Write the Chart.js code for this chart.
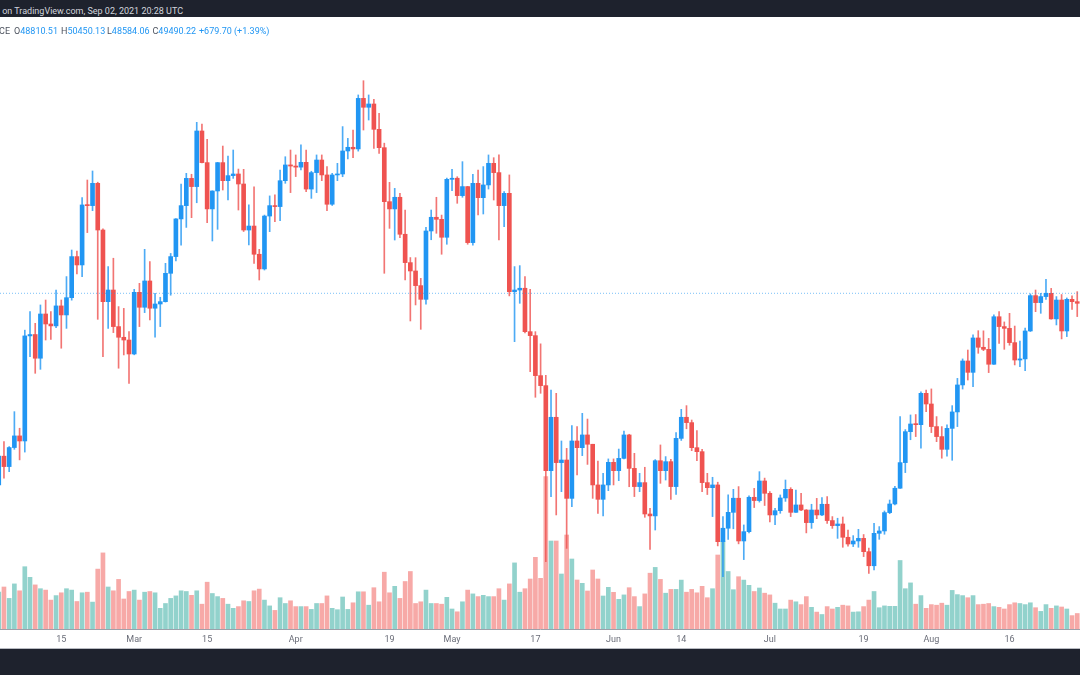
<!DOCTYPE html>
<html lang="en">
<head>
<meta charset="UTF-8">
<title>BTCUSDT 1D</title>
<script src="https://cdn.jsdelivr.net/npm/chart.js"></script>
<style>
    body {
        margin: 0;
        width: 1080px;
        height: 675px;
        overflow: hidden;
        background: #fff;
        font-family: Roboto, "Open Sans", sans-serif;
    }
    .topbar {
        position: absolute; left: 0; top: 0;
        width: 1080px; height: 17px;
        background: #1e222d;
        overflow: hidden;
    }
    .topbar span {
        position: absolute; right: 897px; top: 0;
        line-height: 22px; font-size: 9px;
        color: #d1d4dc; white-space: nowrap;
    }
    .legend {
        position: absolute; left: 0; top: 25px;
        width: 1080px; height: 12px;
        font-size: 9px; line-height: 12px;
        z-index: 2;
    }
    .legend span { position: absolute; top: 0; white-space: nowrap; }
    .legend .name { right: 1070px; color: #4c525e; }
    .legend b { font-weight: normal; color: #4c525e; }
    .legend i { font-style: normal; color: #2196f3; }
    .wrap {
        position: absolute; left: 0; top: 0;
        width: 1080px; height: 650px;
    }
    .rule {
        position: absolute; left: 0; top: 648px;
        width: 1080px; height: 1px; background: #b8bbc2;
    }
    .bottombar {
        position: absolute; left: 0; top: 649px;
        width: 1080px; height: 26px; background: #1e222d;
    }
</style>
</head>
<body>
<div class="wrap"><canvas id="chart"></canvas></div>
<div class="topbar"><span>Bitcoin / TetherUS published on TradingView.com, Sep 02, 2021 20:28 UTC</span></div>
<div class="legend" id="legend"><span class="name">BINANCE</span></div>
<div class="rule"></div>
<div class="bottombar"></div>

<script>
// daily candles, index 0 = 3 Feb 2021 ... index 207 = 29 Aug 2021
var open = [
    35500, 37600, 36840, 38230, 39080, 38710, 46380, 46480, 44750, 47980,
    47250, 47110, 48570, 47910, 49170, 52170, 51560, 55940, 55890, 57520,
    54110, 48880, 49730, 47060, 46280, 46080, 45060, 49560, 48470, 50390,
    48400, 48710, 48880, 50950, 52170, 54920, 55890, 57880, 57280, 61340,
    59030, 55650, 56960, 59030, 57710, 58080, 58200, 57470, 54110, 54400,
    52340, 51270, 55130, 55890, 55820, 57710, 58860, 58780, 58700, 59050,
    57100, 58300, 59220, 58130, 55990, 58130, 58200, 59880, 60150, 60030,
    63720, 63070, 63310, 61460, 60120, 56180, 55650, 56500, 53800, 51730,
    51120, 50050, 49050, 54040, 55040, 54890, 53580, 57810, 57890, 56620,
    57280, 53190, 57520, 56470, 57400, 58980, 58300, 55890, 56790, 49610,
    49730, 49860, 46690, 46400, 43480, 42750, 36540, 40440, 37130, 37320,
    34520, 38710, 38220, 39150, 38470, 35500, 34450, 35500, 37150, 36540,
    37440, 39150, 36710, 35380, 35670, 33380, 33240, 37270, 36540, 37200,
    35380, 38900, 40440, 40050, 38220, 37930, 35670, 35300, 35500, 31360,
    32340, 33500, 34530, 31410, 32090, 34600, 34360, 35790, 34890, 33310,
    33620, 34550, 35180, 33500, 34040, 33670, 32750, 33670, 33310, 34090,
    32900, 32530, 32650, 31680, 31190, 31410, 31600, 30630, 29600, 31970,
    32140, 33480, 34110, 35260, 37130, 39390, 39950, 39900, 42190, 41410,
    39760, 39030, 38100, 39630, 40830, 42800, 44550, 43720, 46230, 45550,
    45400, 44310, 47780, 47060, 46930, 45890, 44620, 44700, 46740, 49320,
    48810, 49250, 49490, 47620, 49000, 46740, 49050, 48880
];
var high = [
    37700, 38660, 38300, 40850, 39640, 46800, 48150, 47300, 48640, 49000,
    48150, 49730, 49000, 50710, 52650, 52580, 56470, 57760, 58420, 57600,
    54200, 51440, 52050, 48520, 48390, 46690, 49780, 50220, 52700, 51800,
    49490, 49200, 51680, 52400, 54950, 57470, 58250, 58180, 61970, 61850,
    60730, 56970, 59050, 60240, 59510, 59950, 58560, 58540, 55940, 57270,
    52700, 55200, 56600, 56670, 58490, 59460, 59950, 59590, 60320, 59950,
    58400, 59590, 59590, 58740, 58250, 58980, 61660, 60800, 61410, 63970,
    65010, 63970, 63650, 62630, 60450, 57590, 57150, 56790, 55570, 52100,
    52090, 50580, 54300, 55570, 56500, 55200, 57900, 58540, 58000, 59100,
    57300, 58170, 58490, 58740, 59590, 59390, 59590, 56910, 58130, 51440,
    51510, 50710, 49780, 46690, 45800, 43500, 42430, 42190, 38710, 38170,
    39830, 39760, 40730, 40310, 38470, 37250, 36350, 37400, 37400, 38120,
    39440, 39200, 37810, 36350, 36790, 33800, 37350, 38420, 37570, 37370,
    39320, 41020, 41290, 40240, 39460, 38100, 36350, 36060, 35700, 33190,
    34770, 35180, 35380, 32580, 34700, 35250, 36470, 36000, 35020, 33800,
    34770, 35860, 35300, 35130, 34890, 33700, 34090, 34520, 34570, 34650,
    33190, 33070, 33160, 32210, 31800, 32260, 31880, 30900, 32700, 32460,
    33600, 34400, 35400, 40490, 39540, 40610, 40640, 42290, 42430, 42510,
    40490, 39760, 39880, 41290, 43280, 44700, 45350, 46450, 46760, 46750,
    46200, 47910, 48150, 47400, 48030, 47100, 46010, 46950, 49450, 49730,
    49490, 50510, 49850, 49250, 49400, 49150, 49300, 49610
];
var low = [
    35400, 35990, 36470, 38100, 37330, 37900, 44870, 43650, 43940, 46080,
    46130, 46980, 45480, 46930, 48990, 50900, 50710, 53920, 55520, 47590,
    44870, 46930, 46620, 44020, 44990, 42920, 45000, 47060, 48080, 47540,
    46280, 47060, 48850, 49350, 51850, 53000, 54300, 55010, 56100, 59000,
    54650, 53310, 54160, 57030, 56300, 57880, 55570, 54000, 53020, 51680,
    50460, 51190, 53990, 54720, 54790, 57520, 56840, 58010, 58490, 56910,
    56420, 56840, 57710, 55520, 55900, 57710, 58000, 59300, 59390, 59870,
    61410, 62140, 60070, 59710, 50950, 54230, 53380, 53550, 50460, 47470,
    48640, 46860, 48690, 53400, 53870, 52340, 53070, 56980, 56060, 56500,
    53070, 53000, 55210, 55280, 57100, 56300, 53380, 54360, 49300, 45960,
    48760, 46600, 43770, 41900, 42190, 29900, 34650, 33310, 35010, 30870,
    33920, 36230, 37640, 37000, 34520, 33430, 33230, 35080, 35500, 35810,
    37400, 35370, 34650, 35010, 33140, 30800, 32210, 35620, 35860, 34450,
    34800, 38750, 39600, 38000, 37270, 35010, 34800, 33190, 31050, 28800,
    31530, 32300, 31200, 30050, 31990, 33850, 34250, 34000, 32800, 32600,
    33430, 34300, 33190, 33490, 33620, 32000, 32330, 33040, 33250, 32700,
    32330, 31600, 30950, 31030, 31000, 30950, 30270, 29050, 29290, 31530,
    31900, 33400, 34040, 35250, 36400, 38800, 39030, 38180, 40850, 39320,
    38660, 37450, 37600, 37300, 39760, 42500, 43160, 42680, 45110, 45300,
    43700, 44300, 45840, 45400, 45700, 44260, 44140, 43840, 46700, 48150,
    48030, 49050, 47600, 47180, 46160, 46330, 48320, 47790
];
var close = [
    37600, 36840, 38230, 39080, 38710, 46380, 46480, 44750, 47980, 47250,
    47110, 48570, 47910, 49170, 52170, 51560, 55940, 55890, 57520, 54110,
    48880, 49730, 47060, 46280, 46080, 45060, 49560, 48470, 50390, 48400,
    48710, 48880, 50950, 52170, 54920, 55890, 57880, 57280, 61340, 59030,
    55650, 56960, 59030, 57710, 58080, 58200, 57470, 54110, 54400, 52340,
    51270, 55130, 55890, 55820, 57710, 58860, 58780, 58700, 59050, 57100,
    58300, 59220, 58130, 55990, 58130, 58200, 59880, 60150, 60030, 63720,
    63070, 63310, 61460, 60120, 56180, 55650, 56500, 53800, 51730, 51120,
    50050, 49050, 54040, 55040, 54890, 53580, 57810, 57890, 56620, 57280,
    53190, 57520, 56470, 57400, 58980, 58300, 55890, 56790, 49610, 49730,
    49860, 46690, 46400, 43480, 42750, 36540, 40440, 37130, 37320, 34520,
    38710, 38220, 39150, 38470, 35500, 34450, 35500, 37150, 36540, 37440,
    39150, 36710, 35380, 35670, 33380, 33240, 37270, 36540, 37200, 35380,
    38900, 40440, 40050, 38220, 37930, 35670, 35300, 35500, 31360, 32340,
    33500, 34530, 31410, 32090, 34600, 34360, 35790, 34890, 33310, 33620,
    34550, 35180, 33500, 34040, 33670, 32750, 33670, 33310, 34090, 32900,
    32530, 32650, 31680, 31190, 31410, 31600, 30630, 29600, 31970, 32140,
    33480, 34110, 35260, 37130, 39390, 39950, 39900, 42190, 41410, 39760,
    39030, 38100, 39630, 40830, 42800, 44550, 43720, 46230, 45550, 45400,
    44310, 47780, 47060, 46930, 45890, 44620, 44700, 46740, 49320, 48810,
    49250, 49490, 47620, 49000, 46740, 49050, 48880, 48760
];
var volume = [
    3680, 4200, 3060, 4510, 3820, 6230, 5170, 4410, 4030, 3890,
    2890, 3340, 3620, 4030, 3890, 2750, 3620, 3680, 2690, 5990,
    7610, 4200, 3820, 4960, 3000, 3750, 3890, 2890, 3680, 3750,
    3620, 2070, 2550, 3060, 3310, 3820, 3750, 3370, 3820, 2480,
    4680, 3550, 3240, 3060, 2480, 2070, 2240, 2820, 2750, 3820,
    3990, 2890, 2310, 1860, 3130, 2550, 2820, 2240, 2240, 2240,
    1960, 2550, 2550, 3310, 2070, 1930, 3200, 1960, 2620, 3720,
    3720, 2380, 4130, 2720, 5680, 3620, 4270, 3060, 4750, 5750,
    2550, 2720, 3890, 2550, 2550, 2480, 3170, 2000, 1720, 2720,
    3890, 3510, 3240, 3370, 3240, 3240, 4030, 2890, 4510, 6610,
    3680, 4030, 5000, 7170, 5070, 15230, 8800, 8800, 5500, 9400,
    7000, 4900, 4570, 3800, 5900, 5000, 3300, 4170, 3670, 2970,
    3410, 4130, 3240, 2240, 3510, 5580, 6160, 4960, 3580, 3960,
    3960, 4890, 3680, 3960, 3620, 4270, 3130, 4030, 7400, 8800,
    5750, 3930, 5230, 4890, 4370, 3750, 4100, 3580, 3410, 2580,
    2000, 2000, 2890, 2720, 2440, 3240, 2170, 1690, 1450, 2240,
    2000, 2170, 2380, 2310, 1690, 1720, 2240, 2890, 3750, 2130,
    2310, 2270, 2270, 6850, 4030, 4610, 2480, 3340, 2070, 2440,
    2380, 2580, 2380, 3860, 3440, 3340, 3130, 3340, 2440, 2480,
    2550, 2240, 2170, 2000, 2440, 2620, 2550, 2440, 2620, 2130,
    1760, 2440, 2070, 2310, 2200, 2000, 1340, 1550
];

// x tick positions (candle index) and their labels
var tickIndex = [12, 26, 40, 57, 75, 87, 103, 118, 131, 148, 166, 179, 194];
var tickText = ['15', 'Mar', '15', 'Apr', '19', 'May', '17', 'Jun', '14', 'Jul', '19', 'Aug', '16'];

// legend of the last (Sep 02) candle
var legendKeys = ['O', 'H', 'L', 'C'];
var legendValues = ['48810.51', '50450.13', '48584.06', '49490.22'];
var legendChange = '+679.70 (+1.39%)';
var lastPrice = 49490.22;

var UP = '#2196f3', DOWN = '#ef5350';
var UP_WICK = 'rgba(33,150,243,0.8)', DOWN_WICK = 'rgba(239,83,80,0.8)';
var UP_VOL = 'rgba(38,166,154,0.5)', DOWN_VOL = 'rgba(239,83,80,0.5)';

// legend text
var legendLeft = [14, 61, 107, 152.5];
var legend = document.getElementById('legend');
legendKeys.forEach(function (k, n) {
    var s = document.createElement('span');
    s.style.left = legendLeft[n] + 'px';
    s.innerHTML = '<b>' + k + '</b><i>' + legendValues[n] + '</i>';
    legend.appendChild(s);
});
var ch = document.createElement('span');
ch.style.left = '199px';
ch.innerHTML = '<i>' + legendChange + '</i>';
legend.appendChild(ch);

var up = close.map(function (c, i) { return c >= open[i]; });

var ctx = document.getElementById('chart').getContext('2d');
new Chart(ctx, {
    type: 'bar',
    data: {
        datasets: [{
            label: 'Volume',
            yAxisID: 'yVol',
            order: 3,
            grouped: false,
            barThickness: 4,
            data: volume.map(function (v, i) { return { x: i, y: v }; }),
            backgroundColor: up.map(function (u) { return u ? UP_VOL : DOWN_VOL; })
        }, {
            label: 'Wick',
            yAxisID: 'y',
            order: 2,
            grouped: false,
            barThickness: 1,
            data: low.map(function (l, i) { return { x: i, y: [l, high[i]] }; }),
            backgroundColor: up.map(function (u) { return u ? UP_WICK : DOWN_WICK; })
        }, {
            label: 'Body',
            yAxisID: 'y',
            order: 1,
            grouped: false,
            barThickness: 4,
            minBarLength: 1,
            data: open.map(function (o, i) { return { x: i, y: [o, close[i]] }; }),
            backgroundColor: up.map(function (u) { return u ? UP : DOWN; })
        }, {
            type: 'line',
            label: 'Last',
            yAxisID: 'y',
            order: 0,
            data: [{ x: 0.24, y: lastPrice }, { x: 207.53, y: lastPrice }],
            borderColor: 'rgba(33,150,243,0.6)',
            borderWidth: 1,
            borderDash: [1, 2],
            pointRadius: 0
        }]
    },
    options: {
        responsive: true,
        maintainAspectRatio: false,
        animation: false,
        layout: { padding: { top: 40, bottom: 2, left: 0, right: 0 } },
        plugins: {
            legend: { display: false },
            tooltip: { enabled: false }
        },
        scales: {
            x: {
                type: 'linear',
                min: 0.24,
                max: 207.53,
                bounds: 'data',
                offset: false,
                grid: { display: false, drawTicks: false },
                border: { display: true, color: '#9ea1aa', width: 1 },
                ticks: {
                    autoSkip: false,
                    maxRotation: 0,
                    padding: 5,
                    color: '#6a6d78',
                    font: { family: 'Roboto', size: 9 },
                    callback: function (v) {
                        var k = tickIndex.indexOf(v);
                        return k < 0 ? '' : tickText[k];
                    }
                },
                afterBuildTicks: function (s) {
                    s.ticks = tickIndex.map(function (v) { return { value: v }; });
                },
                afterFit: function (s) { s.height = 19; }
            },
            y: { display: false, bounds: 'data', min: 24984, max: 67981 },
            yVol: { display: false, bounds: 'data', min: 0, max: 58900 }
        }
    }
});
</script>
</body>
</html>
